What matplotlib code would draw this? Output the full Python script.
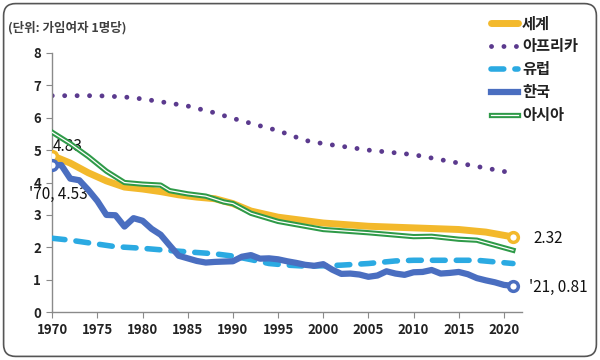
import matplotlib
matplotlib.use('Agg')
import matplotlib.pyplot as plt
from matplotlib.lines import Line2D
from matplotlib.legend_handler import HandlerTuple
from matplotlib.patches import FancyBboxPatch

plt.rcParams['font.family'] = ['Noto Sans CJK KR', 'DejaVu Sans']

# 데이터
world_years = [1970, 1972, 1974, 1976, 1978, 1980, 1982, 1984, 1986, 1988, 1990, 1992, 1995,
               2000, 2005, 2010, 2015, 2018, 2021]
world = [4.83, 4.6, 4.3, 4.05, 3.86, 3.8, 3.72, 3.62, 3.55, 3.5, 3.35, 3.12, 2.93,
         2.75, 2.65, 2.6, 2.55, 2.47, 2.32]

africa_years = [1970, 1975, 1978, 1980, 1983, 1985, 1988, 1990, 1993, 1995, 1998, 2000,
                2005, 2010, 2015, 2021]
africa = [6.68, 6.68, 6.64, 6.58, 6.45, 6.36, 6.15, 5.98, 5.75, 5.6, 5.3, 5.2,
          5.0, 4.86, 4.6, 4.29]

europe_years = [1970, 1972, 1975, 1977, 1980, 1983, 1985, 1988, 1990, 1992, 1994, 1996, 1998,
                2000, 2002, 2005, 2008, 2010, 2012, 2015, 2017, 2019, 2021]
europe = [2.28, 2.22, 2.1, 2.02, 1.97, 1.9, 1.86, 1.8, 1.73, 1.62, 1.5, 1.45, 1.42,
          1.43, 1.45, 1.5, 1.58, 1.6, 1.6, 1.6, 1.6, 1.55, 1.5]

korea_years = list(range(1970, 2022))
korea = [4.53, 4.54, 4.12, 4.07, 3.77, 3.43, 3.00, 2.99, 2.64, 2.90, 2.82, 2.57, 2.39, 2.06,
         1.74, 1.66, 1.58, 1.53, 1.55, 1.56, 1.57, 1.71, 1.76, 1.65, 1.66, 1.63, 1.57, 1.52,
         1.46, 1.43, 1.48, 1.31, 1.18, 1.19, 1.16, 1.09, 1.13, 1.26, 1.19, 1.15, 1.23, 1.24,
         1.30, 1.19, 1.21, 1.24, 1.17, 1.05, 0.98, 0.92, 0.84, 0.81]

asia_years = [1970, 1972, 1974, 1976, 1978, 1980, 1982, 1983, 1985, 1987, 1989, 1990, 1991,
              1992, 1995, 2000, 2005, 2010, 2012, 2015, 2017, 2021]
asia = [5.55, 5.2, 4.8, 4.35, 4.0, 3.95, 3.92, 3.75, 3.65, 3.58, 3.4, 3.35, 3.2,
        3.05, 2.8, 2.55, 2.45, 2.33, 2.34, 2.25, 2.22, 1.91]

labels = ['세계', '아프리카', '유럽', '한국', '아시아']
c_world = '#F3B92C'
c_africa = '#5B3A8E'
c_europe = '#2BAAE2'
c_korea = '#4A6EC0'
c_asia = '#2E9A48'

fig = plt.figure(figsize=(6, 3.6), dpi=100)
ax = fig.add_axes([0.087, 0.133, 0.783, 0.72])

l_world, = ax.plot(world_years, world, color=c_world, lw=5, solid_capstyle='round', zorder=2)
l_africa, = ax.plot(africa_years, africa, color=c_africa, lw=3.5, zorder=2,
                    dash_capstyle='round')
l_africa.set_dashes([0.01, 2.55])
l_europe, = ax.plot(europe_years, europe, color=c_europe, lw=4, zorder=3,
                    dash_capstyle='round')
l_europe.set_dashes([2.3, 2.0])
l_korea, = ax.plot(korea_years, korea, color=c_korea, lw=4.5, solid_joinstyle='round', zorder=4)
l_asia, = ax.plot(asia_years, asia, color=c_asia, lw=3.8, zorder=5)
l_asia2, = ax.plot(asia_years, asia, color='white', lw=0.9, zorder=6)

# 끝점 표시
ax.plot([world_years[0], world_years[-1]], [world[0], world[-1]], 'o', ms=7, mfc='white',
        mec=c_world, mew=2.5, zorder=7)
ax.plot([korea_years[0], korea_years[-1]], [korea[0], korea[-1]], 'o', ms=7, mfc='white',
        mec=c_korea, mew=2.5, zorder=7)

ax.text(1970.1, 5.1, f'{world[0]:.2f}', fontsize=11, ha='left', va='center', color='#111')
ax.text(1973.9, 3.64, f"'70, {korea[0]:.2f}", fontsize=11, ha='right', va='center', color='#111')
ax.text(2023.3, 2.28, f'{world[-1]:.2f}', fontsize=11, ha='left', va='center', color='#111')
ax.text(2022.8, 0.77, f"'21, {korea[-1]:.2f}", fontsize=11, ha='left', va='center', color='#111')

ax.set_xlim(1970, 2022)
ax.set_ylim(0, 8)
ax.set_xticks(range(1970, 2021, 5))
ax.set_yticks(range(0, 9))
for s in ['top', 'right']:
    ax.spines[s].set_visible(False)
for s in ['left', 'bottom']:
    ax.spines[s].set_color('#8a8a8a')
    ax.spines[s].set_linewidth(1)
ax.tick_params(length=4, color='#8a8a8a', labelsize=9.5, labelcolor='#222', pad=4)
for lab in ax.get_xticklabels() + ax.get_yticklabels():
    lab.set_fontweight('bold')

fig.text(0.013, 0.922, '(단위: 가임여자 1명당)', fontsize=9, fontweight='bold',
         color='#404040', ha='left', va='center')

h_asia = (Line2D([], [], color=c_asia, lw=3.8), Line2D([], [], color='white', lw=0.9))
leg = fig.legend([l_world, l_africa, l_europe, l_korea, h_asia], labels,
                 handler_map={tuple: HandlerTuple(ndivide=1)},
                 loc='upper left', bbox_to_anchor=(0.795, 0.995), frameon=False,
                 prop={'size': 11, 'weight': 'bold'}, handlelength=1.8,
                 handletextpad=0.25, labelspacing=0.45)
for t in leg.get_texts():
    t.set_color('#222')

border = FancyBboxPatch((0.006, 0.01), 0.988, 0.98, boxstyle='round,pad=0,rounding_size=0.02',
                        transform=fig.transFigure, fill=False, ec='#555555', lw=1.2,
                        mutation_aspect=600 / 360)
fig.patches.append(border)

fig.savefig('out.png', dpi=100)
